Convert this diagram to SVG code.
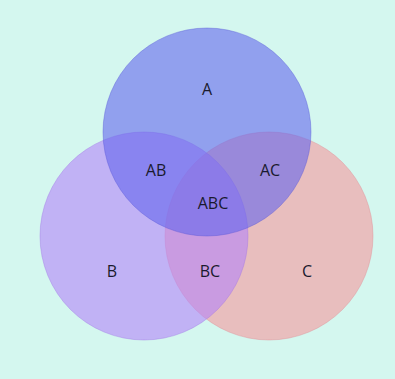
<svg xmlns="http://www.w3.org/2000/svg" width="395" height="379" viewBox="0 0 395 379">
<style>
.set{fill-opacity:0.6;stroke-width:1;stroke-opacity:0.4}
.lbl{font-family:"Open Sans","DejaVu Sans",sans-serif;font-size:16px;fill:#1a1a2e;text-anchor:middle}
</style>
<rect x="0" y="0" width="395" height="379" fill="#d4f7ef"/>
<g id="C"><circle class="set" cx="269" cy="236" r="104" fill="#f5979d" stroke="#e08890"/></g>
<g id="B"><circle class="set" cx="144" cy="236" r="104" fill="#b483f8" stroke="#9f74e6"/></g>
<g id="A"><circle class="set" cx="207" cy="132" r="104" fill="#6465ed" stroke="#5556d8"/></g>
<g id="labels">
<text class="lbl" x="207" y="95">A</text>
<text class="lbl" x="156" y="176">AB</text>
<text class="lbl" x="270" y="176">AC</text>
<text class="lbl" x="213" y="209">ABC</text>
<text class="lbl" x="112" y="277">B</text>
<text class="lbl" x="210" y="277">BC</text>
<text class="lbl" x="307" y="277">C</text>
</g>
</svg>
